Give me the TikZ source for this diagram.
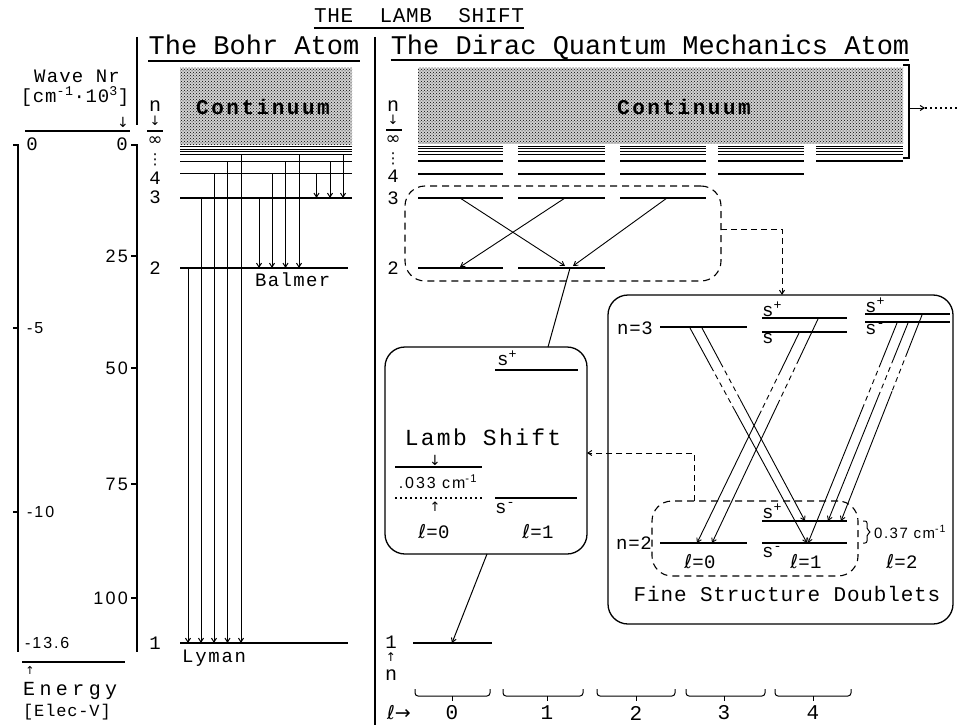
\documentclass[tikz,border=0pt]{standalone}
\usepackage{fontspec}
\setmainfont{Liberation Mono}
\setsansfont{Liberation Sans}
\newfontfamily\symfont{DejaVu Sans}
\usetikzlibrary{arrows.meta, calc, patterns}
\newcommand{\ellsym}{{\symfont ℓ}}
% one fine structure transition: solid, dashed gap, solid with tip
\newcommand{\fsline}[2]{%
  \draw[fsl] (#1) -- ($(#1)!0.18!(#2)$);
  \draw[fsl, fsdash] ($(#1)!0.18!(#2)$) -- ($(#1)!0.37!(#2)$);
  \draw[fsl, arr] ($(#1)!0.37!(#2)$) -- (#2);}

\begin{document}
\begin{tikzpicture}[x=1pt, y=-1pt, inner sep=0pt,
    mono/.style 2 args={font=\fontsize{#1}{#1}\selectfont\addfontfeature{LetterSpace=#2}},
    sans/.style 2 args={font=\sffamily\fontsize{#1}{#1}\selectfont\addfontfeature{LetterSpace=#2}},
    glyph/.style={font=\symfont\fontsize{#1}{#1}\selectfont},
    conttxt/.style={font=\bfseries\fontsize{21}{21}\selectfont\addfontfeature{LetterSpace=12}},
    lvl/.style={line width=1.5pt},
    band/.style={line width=1pt},
    arr/.style={-{Straight Barb[length=4pt,width=5pt]}},
    tr/.style={line width=1pt, arr},
    link/.style={line width=1pt},
    fsl/.style={line width=0.9pt},
    fsdash/.style={dash pattern=on 5pt off 4pt},
    dashc/.style={line width=1pt, dash pattern=on 6pt off 4pt},
    box/.style={draw, line width=1.3pt, rounded corners=20pt, inner sep=0pt},
    dbox/.style={box, line width=1.1pt, dash pattern=on 7pt off 5pt},
    cont/.style={fill=black!18, postaction={pattern=crosshatch dots, pattern color=black}},
    rule/.style={line width=1.4pt}
  ]
  \useasboundingbox (0,0) rectangle (958,725);
  \fill[white] (0,0) rectangle (958,725);

  % title and headings
  \node[mono={21}{3}, anchor=base] (title) at (419,23) {THE\ \ LAMB\ \ SHIFT};
  \draw[rule] ($(title.base west)+(0,5)$) -- ($(title.base east)+(0,5)$);
  \node[mono={27}{0}, anchor=base] (bohr) at (254,55) {The Bohr Atom};
  \draw[rule] ($(bohr.base west)+(0,6)$) -- ($(bohr.base east)+(0,6)$);
  \node[mono={27}{0}, anchor=base] (dirac) at (650,55) {The Dirac Quantum Mechanics Atom};
  \draw[rule] ($(dirac.base west)+(0,5)$) -- ($(dirac.base east)+(0,5)$);
  \draw[rule] (137,37) -- (137,125);
  \draw[rule] (375,37) -- (375,725);

  % scales
  \node[mono={19}{6}, anchor=base] (wavenr) at (77,82) {Wave Nr};
  \node[mono={19}{4}, anchor=base] (waveunit) at (75,102) {[cm\textsuperscript{-1}·10\textsuperscript{3}]};
  \node[glyph=14] (wavedown) at (123,122) {↓};
  \draw[rule] (25,131) -- (130,131);
  \node[mono={19}{0}] (ezero) at (32,144) {0};
  \node[mono={19}{0}] (wzero) at (122,144) {0};
  \draw[rule] (13,145) -- (18,145) -- (18,652);
  \draw[rule] (131,145) -- (137,145) -- (137,652);
  \foreach \y/\v in {328/-5, 512/-10} {
    \draw[rule] (13,\y) -- (18,\y);
    \node[sans={16}{12}, anchor=west] (ev\y) at (27,\y) {\v};
  }
  \node[sans={16}{12}, anchor=west] (evlow) at (25,643) {-13.6};
  \foreach \y/\v in {256/25, 368/50, 484/75, 598/100} {
    \draw[rule] (131,\y) -- (137,\y);
    \node[sans={18}{12}, anchor=east] (wv\v) at (128,\y) {\v};
  }
  \draw[rule] (22,662) -- (125,662);
  \node[glyph=11] (energyup) at (30,670) {↑};
  \node[mono={20}{22}, anchor=base west] (energy) at (23,695) {Energy};
  \node[mono={17}{5}, anchor=west] (elecv) at (23,712) {[Elec-V]};

  % Bohr atom levels
  \fill[cont] (180,68) rectangle (352,144.5);
  \node[conttxt] (bcont) at (263,107) {Continuum};
  \foreach \y in {146.5,149,151.5,154.5} \draw[band] (180,\y) -- (352,\y);
  \foreach \y in {161.5,173.5,198} \draw[lvl] (180,\y) -- (352,\y);
  \draw[lvl] (180,268) -- (348,268);
  \draw[lvl] (180,643) -- (348,643);
  \node[mono={20}{0}] (bn) at (155,106) {n};
  \node[glyph=13] (bndown) at (155,121) {↓};
  \draw[rule] (147,131) -- (163,131);
  \node[glyph=18] (binf) at (155,141) {∞};
  \node[glyph=15] (bdots) at (155,160) {⋮};
  \foreach \y/\v in {178/4, 197/3, 268/2, 643/1} \node[mono={19}{0}] (bl\v) at (155,\y) {\v};

  % Bohr series
  \foreach \x/\y [count=\i] in {188/268, 201/198, 214/173.5, 227.5/161.5, 241/154.5} {
    \coordinate (lyA\i) at (\x,\y);
    \coordinate (lyB\i) at (\x,643);
    \draw[tr] (lyA\i) -- (lyB\i);
  }
  \foreach \x/\y [count=\i] in {259/198, 272/173.5, 285.5/161.5, 299/154.5} {
    \coordinate (baA\i) at (\x,\y);
    \coordinate (baB\i) at (\x,268);
    \draw[tr] (baA\i) -- (baB\i);
  }
  \foreach \x/\y [count=\i] in {316.5/173.5, 330/161.5, 343/154.5} {
    \coordinate (paA\i) at (\x,\y);
    \coordinate (paB\i) at (\x,198);
    \draw[tr] (paA\i) -- (paB\i);
  }
  \node[mono={19}{7}, anchor=base west] (balmer) at (255,286) {Balmer};
  \node[mono={19}{9}, anchor=base west] (lyman) at (182,662) {Lyman};

  % Dirac atom levels
  \fill[cont] (418,68) rectangle (903,143.5);
  \node[conttxt] (dcont) at (684,107) {Continuum};
  \draw[rule] (903,65) -- (909,65) -- (909,158) -- (903,158);
  \coordinate (contR) at (909,108);
  \coordinate (contA) at (925,108);
  \coordinate (contE) at (958,108);
  \draw[tr] (contR) -- (contA);
  \draw[line width=1.2pt, dash pattern=on 2pt off 3pt] (contA) -- (contE);
  \foreach \a/\b in {418/503, 518/605, 620/706, 718/804, 816/903} {
    \foreach \y in {146,148.7,151.3,154.7} \draw[band] (\a,\y) -- (\b,\y);
    \draw[lvl] (\a,161) -- (\b,161);
  }
  \foreach \a/\b in {418/503, 518/605, 620/706, 718/804} \draw[lvl] (\a,174) -- (\b,174);
  \foreach \a/\b in {418/503, 518/605, 620/706} \draw[lvl] (\a,198) -- (\b,198);
  \foreach \a/\b in {418/503, 518/605} \draw[lvl] (\a,268) -- (\b,268);
  \draw[lvl] (413,643) -- (492,643);
  \node[mono={20}{0}] (dn) at (393,106) {n};
  \node[glyph=13] (dndown) at (393,120) {↓};
  \draw[rule] (386,130) -- (402,130);
  \node[glyph=18] (dinf) at (393,140) {∞};
  \node[glyph=15] (ddots) at (393,159) {⋮};
  \foreach \y/\v in {176/4, 198/3, 268/2} \node[mono={19}{0}] (dl\v) at (393,\y) {\v};
  \node[mono={19}{0}] (dl1) at (391,642) {1};
  \node[glyph=12] (dnup) at (391,657) {↑};
  \node[mono={20}{0}] (dnlow) at (391,675) {n};

  % n=3 -> n=2 group
  \node[dbox, minimum width=316pt, minimum height=95pt] (n32box) at (563,233.5) {};
  \coordinate (d3s) at (460,198); \coordinate (d2p) at (565,266);
  \coordinate (d3p) at (565,198); \coordinate (d2s) at (460,267);
  \coordinate (d3d) at (667,198); \coordinate (d2q) at (573,266);
  \draw[tr, line width=0.9pt] (d3s) -- (d2p);
  \draw[tr, line width=0.9pt] (d3p) -- (d2s);
  \draw[tr, line width=0.9pt] (d3d) -- (d2q);

  % Lamb shift box
  \node[box, minimum width=202pt, minimum height=207pt] (lambbox) at (486,450.5) {};
  \coordinate (d2link) at (570,268);
  \coordinate (lambtop) at (548,347);
  \coordinate (lambbot) at (487,554);
  \coordinate (d1) at (452,643);
  \draw[link] (d2link) -- (lambtop);
  \draw[tr] (lambbot) -- (d1);
  \node[mono={19}{0}, anchor=base west] (lsp) at (497,365) {s\textsuperscript{+}};
  \draw[lvl] (495,370) -- (578,370);
  \node[mono={23}{10}, anchor=base] (lambtxt) at (483,445) {Lamb Shift};
  \node[glyph=14] (ldown) at (435,460) {↓};
  \draw[lvl] (395,467) -- (482,467);
  \node[sans={16}{12}] (lval) at (438,482) {.033 cm\textsuperscript{-1}};
  \draw[line width=1.2pt, dash pattern=on 2pt off 3pt] (395,498) -- (482,498);
  \draw[lvl] (495,498) -- (577,498);
  \node[glyph=13] (lup) at (435,507) {↑};
  \node[mono={19}{0}, anchor=base west] (lsm) at (495,513) {s\textsuperscript{-}};
  \node[mono={19}{2}] (ll0) at (434,532) {\ellsym=0};
  \node[mono={19}{2}] (ll1) at (538,532) {\ellsym=1};

  % fine structure box
  \node[box, minimum width=345pt, minimum height=329pt] (fsbox) at (780.5,459.5) {};
  \node[dbox, minimum width=206pt, minimum height=75pt] (n2box) at (755,538.5) {};
  \coordinate (n32out) at (721,229);
  \coordinate (fstop) at (782,295);
  \draw[dashc, arr] (n32out) -| (fstop);
  \coordinate (n2top) at (694,501);
  \coordinate (lambright) at (587,453);
  \draw[dashc, arr] (n2top) |- (lambright);

  \node[mono={19}{4}] (fn3) at (635,328) {n=3};
  \draw[lvl] (660,327) -- (747,327);
  \node[mono={19}{0}, anchor=base west] (f3pp) at (762,316) {s\textsuperscript{+}};
  \draw[lvl] (762,318) -- (847,318);
  \node[mono={19}{0}, anchor=base west] (f3pm) at (762,343) {s\textsuperscript{-}};
  \draw[lvl] (762,332) -- (847,332);
  \node[mono={19}{0}, anchor=base west] (f3dp) at (865,312) {s\textsuperscript{+}};
  \draw[lvl] (865,314) -- (950,314);
  \node[mono={19}{0}, anchor=base west] (f3dm) at (865,334) {s\textsuperscript{-}};
  \draw[lvl] (865,322) -- (950,322);

  \node[mono={19}{4}] (fn2) at (634,543) {n=2};
  \draw[lvl] (660,543) -- (747,543);
  \node[mono={19}{0}, anchor=base west] (f2pp) at (762,518) {s\textsuperscript{+}};
  \draw[lvl] (762,521) -- (847,521);
  \draw[lvl] (762,543) -- (847,543);
  \node[mono={19}{0}, anchor=base west] (f2pm) at (762,557) {s\textsuperscript{-}};
  \node[mono={19}{2}] (fl0) at (700,562) {\ellsym=0};
  \node[mono={19}{2}] (fl1) at (806,562) {\ellsym=1};
  \node[mono={19}{2}] (fl2) at (902,562) {\ellsym=2};
  \draw[line width=1pt, rounded corners=2pt] (863,521) -- (867,521) -- (867,530) -- (871,532) -- (867,534) -- (867,543) -- (863,543);
  \node[sans={15}{10}, anchor=west] (fsval) at (874,532) {0.37 cm\textsuperscript{-1}};
  \node[mono={21}{4}, anchor=base] (fstxt) at (787,601) {Fine Structure Doublets};

  % fine structure transitions
  \foreach \nm/\ax/\ay/\bx/\by in {sa/690/328/807/543, sb/702/328/805/521,
      pa/799/333/697/543, pb/818/319/712/543,
      da/897/323/808/543, db/908/323/828/521, dc/922/315/841/521} {
    \coordinate (\nm3) at (\ax,\ay);
    \coordinate (\nm2) at (\bx,\by);
    \fsline{\nm3}{\nm2}
  }

  % orbital quantum number axis
  \node[mono={19}{0}] (laxis) at (399,713) {\ellsym{\symfont →}};
  \foreach \a/\b/\c/\lab in {415/490/452/0, 503/583/547/1, 597/675/636/2, 686/765/724/3, 775/851/813/4} {
    \draw[line width=1pt, rounded corners=3pt] (\a,689) -- (\a,696) -- (\b,696) -- (\b,689);
    \draw[line width=1pt] (\c,696) -- (\c,701);
    \node[mono={21}{0}] (lax\lab) at (\c,713) {\lab};
  }
\end{tikzpicture}
\end{document}
